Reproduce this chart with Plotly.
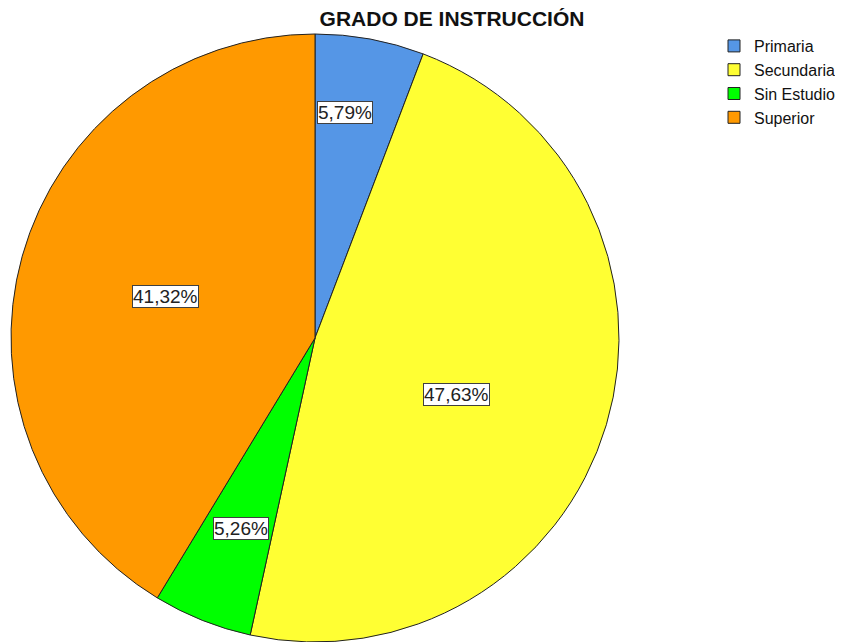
import math
import plotly.graph_objects as go

categories = ["Primaria", "Secundaria", "Sin Estudio", "Superior"]
percentages = [5.79, 47.63, 5.26, 41.32]
label_texts = ["5,79%", "47,63%", "5,26%", "41,32%"]

colors = ["#5596e6", "#ffff33", "#00ff00", "#ff9900"]
# label placement style: radial fraction and small angular nudge (degrees)
label_radius_frac = [0.747, 0.50, 0.671, 0.512]
label_angle_nudge = [-2.8, 5.1, -0.5, 0.0]

# page body has an 8px margin: work in screen coords and shift by OFF
OFF = 8
SW, SH = 843, 642
W, H = SW - OFF, SH - OFF
T = 26  # top margin in figure coords (pie top at screen y=34)
cx, cy, R = 315 - OFF, 338 - OFF, 304
PH = H - T

fig = go.Figure(go.Pie(
    labels=categories,
    values=percentages,
    sort=False,
    direction="clockwise",
    rotation=0,
    textinfo="none",
    hoverinfo="label+percent",
    marker=dict(colors=colors, line=dict(color="#222222", width=1)),
    domain=dict(x=[(cx - R) / W, (cx + R) / W], y=[0, 1]),
))

annotations = []
total = sum(percentages)
cum = 0.0
for v, txt, rf, nud in zip(percentages, label_texts, label_radius_frac, label_angle_nudge):
    mid = (cum + v / 2) / total * 2 * math.pi + math.radians(nud)
    cum += v
    px = cx + rf * R * math.sin(mid)
    py = cy - rf * R * math.cos(mid)
    annotations.append(dict(
        x=px / W, y=1 - (py - T) / PH,
        xref="paper", yref="paper", yanchor="middle", xanchor="center",
        text=txt, showarrow=False,
        font=dict(family="Liberation Sans, Arial", size=19, color="#222222"),
        bgcolor="white", bordercolor="#404040", borderwidth=1, borderpad=0,
    ))

fig.update_layout(
    width=W, height=H,
    margin=dict(l=0, r=0, t=T, b=0, autoexpand=False),
    paper_bgcolor="white",
    plot_bgcolor="white",
    title=dict(text="<b>GRADO DE INSTRUCCIÓN</b>", x=(452 - OFF) / W, xanchor="center",
               y=1 - (19 - OFF) / H, yanchor="middle", yref="container",
               font=dict(family="Liberation Sans, Arial", size=21, color="#111111")),
    legend=dict(x=(714 - OFF) / W, xanchor="left", y=1 - (29 - OFF - T) / PH, yanchor="top",
                font=dict(family="Liberation Sans, Arial", size=16, color="#111111"),
                bgcolor="rgba(0,0,0,0)", itemwidth=30, tracegroupgap=0),
    annotations=annotations,
    showlegend=True,
)

fig.write_html("out.html")
